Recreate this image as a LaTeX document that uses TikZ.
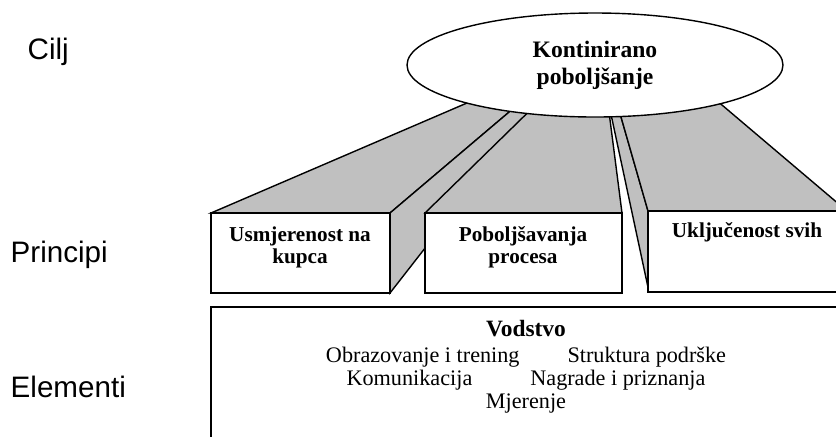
\documentclass[tikz,border=0pt]{standalone}
\usepackage{fontspec}
\setmainfont{Liberation Serif}
\newfontfamily\labelfont{Liberation Sans}
\usetikzlibrary{calc,shapes.geometric}
\definecolor{sidegray}{RGB}{192,192,192}

\begin{document}
\begin{tikzpicture}[x=0.5pt,y=-0.5pt,line width=0.7pt,
		face/.style={fill=sidegray,draw=black},
		front/.style={fill=white,draw=black},
		lbl/.style={font=\labelfont\fontsize{14.8pt}{17pt}\selectfont,inner sep=0,anchor=base west},
		boxtext/.style={font=\bfseries\fontsize{10.6pt}{11pt}\selectfont,inner sep=0,align=center,anchor=base}]
		\useasboundingbox (0,0) rectangle (836,436);
		\clip (0,0) rectangle (836,436);
		% vanishing points of the three pillars
		\coordinate (v1) at (574,57);
		\coordinate (v2) at (600,42);
		\coordinate (v3) at (584,-12);

		% pillar 1
		\coordinate (a1) at (211,213);
		\coordinate (b1) at (390,213);
		\coordinate (c1) at (390,293);
		\draw [face] (a1) -- (b1) -- ($(b1)!0.85!(v1)$) -- ($(a1)!0.85!(v1)$) -- cycle;
		\draw [face] (b1) -- (c1) -- ($(c1)!0.85!(v1)$) -- ($(b1)!0.85!(v1)$) -- cycle;
		\draw [front] (a1) rectangle (c1);

		% pillar 2
		\coordinate (a2) at (425,213);
		\coordinate (b2) at (622,213);
		\draw [face] (a2) -- (b2) -- ($(b2)!0.8!(v2)$) -- ($(a2)!0.8!(v2)$) -- cycle;
		\draw [front] (a2) rectangle (622,293);

		% pillar 3
		\coordinate (a3) at (648,211);
		\coordinate (b3) at (847,211);
		\coordinate (c3) at (649,292);
		\draw [face] (a3) -- (c3) -- ($(c3)!0.668!(v3)$) -- ($(a3)!0.668!(v3)$) -- cycle;
		\draw [face] (a3) -- (b3) -- ($(b3)!0.668!(v3)$) -- ($(a3)!0.668!(v3)$) -- cycle;
		\draw [front] (a3) rectangle (847,292);

		% base
		\draw [front] (211,307) rectangle (850,450);

		\node [draw, fill=white, ellipse, minimum width=188pt, minimum height=52pt, inner sep=0,
			align=center, font=\bfseries\fontsize{11.8pt}{13.5pt}\selectfont] (goal) at (595,65)
			{Kontinirano\\poboljšanje};

		\node [boxtext] (kupac) at (300,263) {Usmjerenost na\\kupca};
		\node [boxtext] (proces) at (523,263) {Poboljšavanja\\procesa};
		\node [boxtext] (svi) at (747,237) {Uključenost svih};

		\node [inner sep=0, align=center, anchor=base, font=\fontsize{11.1pt}{11.5pt}\selectfont] (elementi) at (526,408)
			{{\bfseries\fontsize{11.7pt}{11.5pt}\selectfont Vodstvo}\\[1.5pt]
			Obrazovanje i trening\hspace{24pt}Struktura podrške\\
			Komunikacija\hspace{29pt}Nagrade i priznanja\\
			Mjerenje};

		\foreach \x/\y/\t in {27/59/Cilj, 10/262/Principi, 10/397/Elementi}
			\node [lbl] (\t) at (\x,\y) {\t};
	\end{tikzpicture}
\end{document}
